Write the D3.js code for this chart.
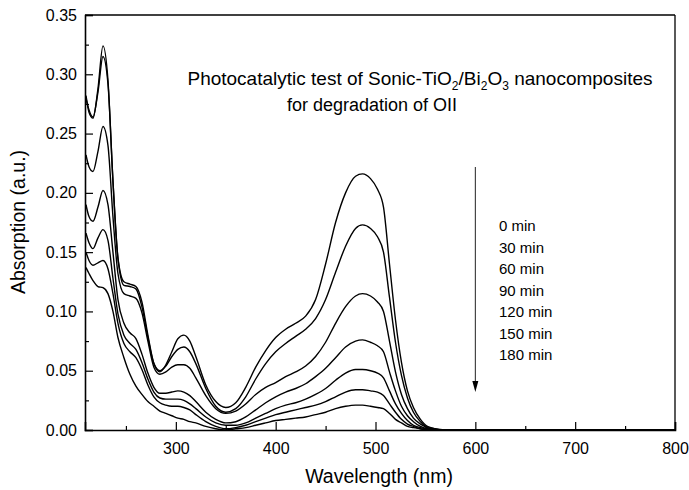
<!DOCTYPE html>
<html><head><meta charset="utf-8">
<script src="https://cdn.jsdelivr.net/npm/d3@7/dist/d3.min.js"></script>
<style>body{margin:0;background:#fff}svg{display:block}text{font-family:"Liberation Sans",Arial,sans-serif;fill:#000}</style>
</head><body><svg id="c" width="689" height="490"></svg>
<script>
const wavelengths = [210,213,217,222,227,232,237,242,248,254,260,266,272,278,284,290,296,302,308,314,320,330,340,350,360,370,380,390,400,410,420,430,440,450,460,470,480,487,495,502,508,514,520,526,532,538,545,552,560,570,600,700,800];
const s0min   = [.282,.268,.263,.288,.324,.295,.210,.145,.125,.123,.121,.108,.080,.056,.049,.055,.066,.077,.080,.075,.062,.038,.024,.019,.023,.036,.053,.067,.078,.085,.090,.096,.110,.140,.175,.200,.214,.216,.212,.203,.188,.140,.093,.057,.033,.019,.009,.003,.001,0,0,0,0];
const s30min  = [.280,.270,.264,.285,.315,.292,.210,.145,.122,.121,.119,.104,.078,.056,.050,.054,.062,.068,.070,.066,.056,.035,.020,.015,.018,.028,.043,.056,.066,.073,.079,.085,.094,.110,.133,.155,.170,.173,.170,.163,.150,.112,.074,.046,.027,.015,.007,.002,.001,0,0,0,0];
const s60min  = [.232,.222,.218,.235,.256,.240,.180,.132,.115,.113,.111,.099,.075,.053,.047,.049,.053,.055,.055,.052,.044,.029,.018,.014,.016,.022,.030,.036,.040,.045,.049,.054,.062,.074,.090,.104,.113,.115,.113,.108,.100,.075,.049,.030,.018,.010,.005,.002,0,0,0,0,0];
const s90min  = [.190,.180,.176,.188,.202,.190,.150,.110,.090,.082,.077,.064,.048,.036,.031,.031,.032,.033,.032,.029,.024,.015,.009,.006,.007,.011,.017,.023,.028,.032,.035,.039,.045,.052,.061,.070,.075,.076,.074,.071,.066,.049,.033,.020,.012,.007,.003,.001,0,0,0,0,0];
const s120min = [.166,.158,.153,.162,.169,.160,.128,.098,.080,.073,.068,.057,.043,.032,.027,.026,.026,.026,.025,.022,.018,.011,.006,.004,.004,.006,.010,.014,.018,.021,.023,.026,.030,.035,.042,.048,.051,.051,.050,.048,.044,.033,.022,.014,.008,.004,.002,.001,0,0,0,0,0];
const s150min = [.150,.143,.139,.141,.143,.136,.115,.090,.073,.066,.061,.051,.038,.028,.023,.021,.020,.020,.019,.017,.013,.007,.003,.001,.002,.004,.007,.010,.013,.015,.017,.019,.021,.024,.028,.032,.034,.034,.033,.032,.029,.022,.015,.009,.005,.003,.001,0,0,0,0,0,0];
const s180min = [.137,.132,.126,.121,.120,.115,.100,.078,.061,.047,.037,.030,.024,.020,.016,.014,.012,.010,.009,.007,.006,.003,.001,0,.001,.002,.004,.006,.008,.009,.010,.011,.013,.015,.018,.020,.021,.021,.020,.019,.018,.014,.009,.006,.003,.002,.001,0,0,0,0,0,0];
const series = [s0min,s30min,s60min,s90min,s120min,s150min,s180min];
const legendLabels = ["0 min","30 min","60 min","90 min","120 min","150 min","180 min"];
const xTicks = [300,400,500,600,700,800];
const xMinor = [250,350,450,550,650,750];
const yTicks = [0,0.05,0.10,0.15,0.20,0.25,0.30,0.35];
const yMinor = [0.025,0.075,0.125,0.175,0.225,0.275,0.325];
const xDomain = [209,800], yDomain = [0,0.35];

const svg = d3.select("#c");
const L=85,R=675,T=15,B=430;
const x = d3.scaleLinear().domain(xDomain).range([L,R]);
const y = d3.scaleLinear().domain(yDomain).range([B,T]);

svg.append("defs").append("clipPath").attr("id","clip").append("rect").attr("x",L).attr("y",T).attr("width",R-L).attr("height",B-T);

const line = d3.line().x((d,i)=>x(wavelengths[i])).y(d=>y(d)).curve(d3.curveMonotoneX);
svg.append("g").attr("clip-path","url(#clip)").selectAll("path").data(series).join("path")
  .attr("d",line).attr("fill","none").attr("stroke","#000").attr("stroke-width",1.4);

svg.append("line").attr("x1",L).attr("x2",R).attr("y1",T).attr("y2",T).attr("stroke","#000").attr("stroke-width",1.3);
svg.append("line").attr("x1",R).attr("x2",R).attr("y1",T).attr("y2",B).attr("stroke","#000").attr("stroke-width",1.3);

svg.append("g").attr("transform",`translate(0,${B})`)
  .call(d3.axisBottom(x).tickValues(xTicks).tickSize(-8).tickPadding(13).tickFormat(d3.format("d")));
svg.append("g").attr("transform",`translate(0,${B})`)
  .call(d3.axisBottom(x).tickValues(xMinor).tickSize(-4).tickFormat("")).select(".domain").remove();
svg.append("g").attr("transform",`translate(${L},0)`)
  .call(d3.axisLeft(y).tickValues(yTicks).tickSize(-8).tickPadding(8).tickFormat(d3.format(".2f")));
svg.append("g").attr("transform",`translate(${L},0)`)
  .call(d3.axisLeft(y).tickValues(yMinor).tickSize(-4).tickFormat("")).select(".domain").remove();
svg.selectAll(".domain").attr("stroke-width",1.6);
svg.selectAll(".tick line").attr("stroke-width",1.2);
svg.selectAll(".tick text").attr("font-size",16).attr("font-family","Liberation Sans, Arial, sans-serif");

svg.append("text").attr("x",(L+R)/2-1).attr("y",483).attr("text-anchor","middle").attr("font-size",19.5).text("Wavelength (nm)");
svg.append("text").attr("transform","translate(25,222) rotate(-90)").attr("text-anchor","middle").attr("font-size",19.5).text("Absorption (a.u.)");

const t1 = svg.append("text").attr("x",420).attr("y",85).attr("text-anchor","middle").attr("font-size",19);
t1.append("tspan").text("Photocatalytic test of Sonic-TiO");
t1.append("tspan").attr("font-size",12).attr("dy",5).text("2");
t1.append("tspan").attr("dy",-5).text("/Bi");
t1.append("tspan").attr("font-size",12).attr("dy",5).text("2");
t1.append("tspan").attr("dy",-5).text("O");
t1.append("tspan").attr("font-size",12).attr("dy",5).text("3");
t1.append("tspan").attr("dy",-5).text(" nanocomposites");
svg.append("text").attr("x",372).attr("y",111).attr("text-anchor","middle").attr("font-size",18).text("for degradation of OII");

const ax = x(600);
svg.append("line").attr("x1",ax).attr("x2",ax).attr("y1",167).attr("y2",384).attr("stroke","#222").attr("stroke-width",1);
svg.append("path").attr("d",`M${ax-3},381 L${ax+3},381 L${ax},392 Z`).attr("fill","#000");

svg.append("g").selectAll("text").data(legendLabels).join("text")
  .attr("x",499).attr("y",(d,i)=>231+i*21.5).attr("font-size",15).text(d=>d);
</script></body></html>
